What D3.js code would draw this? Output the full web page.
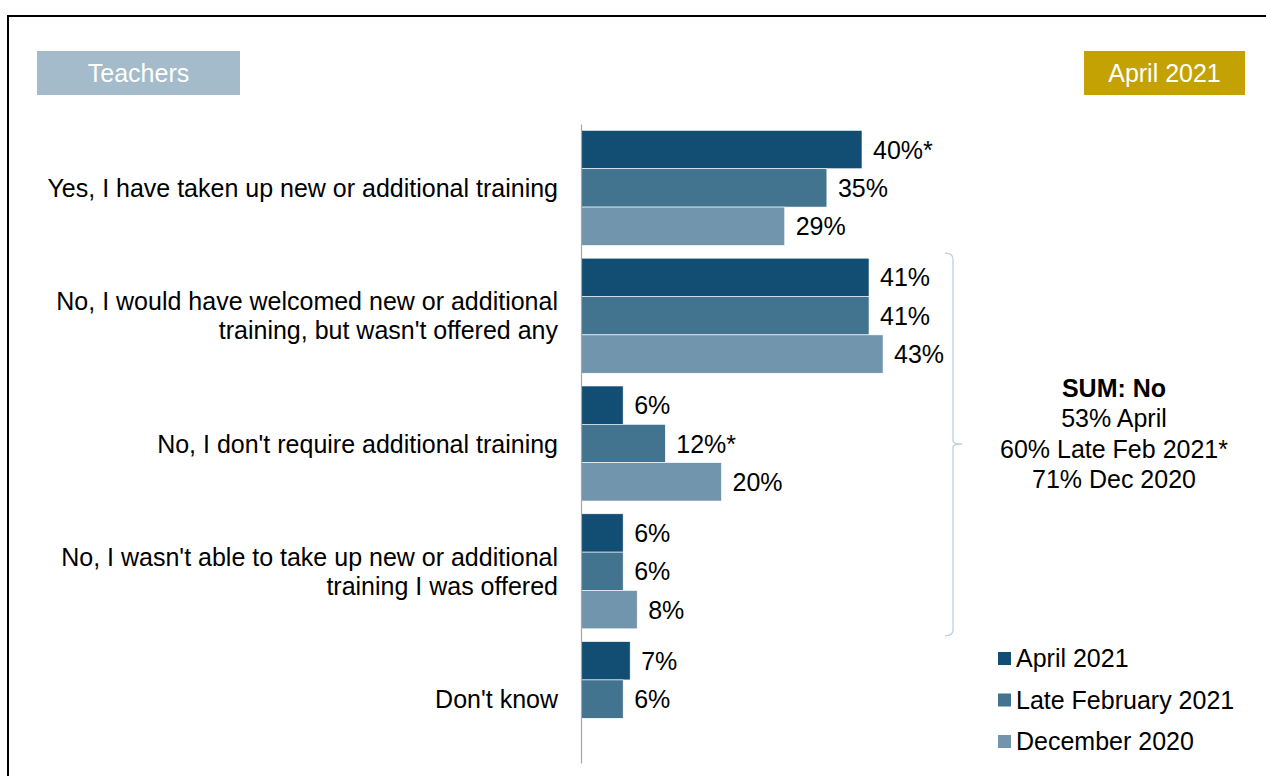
<!DOCTYPE html>
<html>
<head>
<meta charset="utf-8">
<script src="https://cdn.jsdelivr.net/npm/d3@7"></script>
<style>
  html, body { margin: 0; padding: 0; background: #fff; }
  svg { display: block; font-family: "Liberation Sans", Arial, sans-serif; }
</style>
</head>
<body>
<svg id="chart" width="1266" height="776"></svg>
<script>
// ---- Data ----
const categories = [
  "Yes, I have taken up new or additional training",
  "No, I would have welcomed new or additional training, but wasn't offered any",
  "No, I don't require additional training",
  "No, I wasn't able to take up new or additional training I was offered",
  "Don't know"
];
const categoryLines = [
  ["Yes, I have taken up new or additional training"],
  ["No, I would have welcomed new or additional", "training, but wasn't offered any"],
  ["No, I don't require additional training"],
  ["No, I wasn't able to take up new or additional", "training I was offered"],
  ["Don't know"]
];
const seriesNames = ["April 2021", "Late February 2021", "December 2020"];
const april2021 = [40, 41, 6, 6, 7];
const lateFeb2021 = [35, 41, 12, 6, 6];
const dec2020 = [29, 43, 20, 8, null];
const aprilLabels = ["40%*", "41%", "6%", "6%", "7%"];
const febLabels = ["35%", "41%", "12%*", "6%", "6%"];
const decLabels = ["29%", "43%", "20%", "8%", ""];
const sumTitle = "SUM: No";
const sumLines = ["53% April", "60% Late Feb 2021*", "71% Dec 2020"];
const panelLabel = "Teachers";
const waveLabel = "April 2021";

const colors = ["#124E74", "#42738F", "#7195AD"];

// ---- Setup ----
const svg = d3.select("#chart");
const W = 1266, H = 776;
const FS = 25;

// Frame
svg.append("rect").attr("x", 8).attr("y", 16).attr("width", W + 20).attr("height", H + 20)
  .attr("fill", "none").attr("stroke", "#000").attr("stroke-width", 2);

// Header boxes
svg.append("rect").attr("x", 37).attr("y", 51).attr("width", 203).attr("height", 44).attr("fill", "#A3BBCA");
svg.append("text").attr("x", 138.5).attr("y", 73).attr("dy", "0.35em").attr("text-anchor", "middle")
  .attr("fill", "#fff").attr("font-size", FS).text(panelLabel);
svg.append("rect").attr("x", 1084).attr("y", 51).attr("width", 161).attr("height", 44).attr("fill", "#C4A204");
svg.append("text").attr("x", 1164.5).attr("y", 73).attr("dy", "0.35em").attr("text-anchor", "middle")
  .attr("fill", "#fff").attr("font-size", FS).text(waveLabel);

// Scales
const x = d3.scaleLinear().domain([0, 40]).range([581, 862]);
const y = d3.scaleBand().domain(categories).range([124, 763]).paddingInner(0.1).paddingOuter(0.05);
const ySub = d3.scaleBand().domain(seriesNames).range([0, y.bandwidth()]);

const series = [april2021, lateFeb2021, dec2020];
const labels = [aprilLabels, febLabels, decLabels];

// Bars
series.forEach((vals, si) => {
  const g = svg.append("g");
  const data = categories.map((c, i) => ({ c, v: vals[i], lab: labels[si][i] })).filter(d => d.v != null);
  g.selectAll("rect").data(data).enter().append("rect")
    .attr("x", x(0))
    .attr("y", d => y(d.c) + ySub(seriesNames[si]))
    .attr("width", d => x(d.v) - x(0))
    .attr("height", ySub.bandwidth())
    .attr("fill", colors[si])
    .attr("stroke", "#fff").attr("stroke-width", 0.6);
  g.selectAll("text").data(data).enter().append("text")
    .attr("x", d => x(d.v) + 11)
    .attr("y", d => y(d.c) + ySub(seriesNames[si]) + ySub.bandwidth() / 2)
    .attr("dy", "0.36em")
    .attr("font-size", FS).attr("fill", "#000")
    .text(d => d.lab);
});

// Axis line (vertical)
const yAxis = d3.axisLeft(y).tickSize(0).tickFormat("");
const ag = svg.append("g").attr("transform", `translate(${x(0)},0)`).call(yAxis);
ag.select(".domain").attr("stroke", "#A6A6A6").attr("stroke-width", 1.2);

// Category labels
categories.forEach((c, i) => {
  const lines = categoryLines[i];
  const cy = y(c) + y.bandwidth() / 2;
  const lh = 29;
  const t = svg.append("text").attr("text-anchor", "end").attr("font-size", FS).attr("fill", "#000");
  lines.forEach((ln, j) => {
    t.append("tspan").attr("x", 558)
      .attr("y", cy + (j - (lines.length - 1) / 2) * lh)
      .attr("dy", "0.36em").text(ln);
  });
});

// Bracket
const bTop = y(categories[1]) - 5, bBot = y(categories[3]) + y.bandwidth() + 7;
const bx = 953, bMid = 444;
svg.append("path")
  .attr("d", `M${bx - 8},${bTop} Q${bx},${bTop} ${bx},${bTop + 6} L${bx},${bMid - 3} Q${bx},${bMid} ${bx + 9},${bMid} M${bx},${bMid + 3} Q${bx},${bMid} ${bx + 9},${bMid} M${bx},${bMid + 3} L${bx},${bBot - 6} Q${bx},${bBot} ${bx - 8},${bBot}`)
  .attr("fill", "none").attr("stroke", "#BFCFDB").attr("stroke-width", 1.3);

// SUM text
const st = svg.append("text").attr("text-anchor", "middle").attr("font-size", FS).attr("fill", "#000");
st.append("tspan").attr("x", 1114).attr("y", 388).attr("dy", "0.36em").attr("font-weight", "bold").text(sumTitle);
sumLines.forEach((ln, j) => {
  st.append("tspan").attr("x", 1114).attr("y", 418 + j * 30.5).attr("dy", "0.36em").text(ln);
});

// Legend
seriesNames.forEach((n, i) => {
  const ly = 658 + i * 41.5;
  svg.append("rect").attr("x", 998).attr("y", ly - 6).attr("width", 13).attr("height", 13).attr("fill", colors[i]);
  svg.append("text").attr("x", 1016).attr("y", ly).attr("dy", "0.36em").attr("font-size", FS).attr("fill", "#000").text(n);
});
</script>
</body>
</html>
